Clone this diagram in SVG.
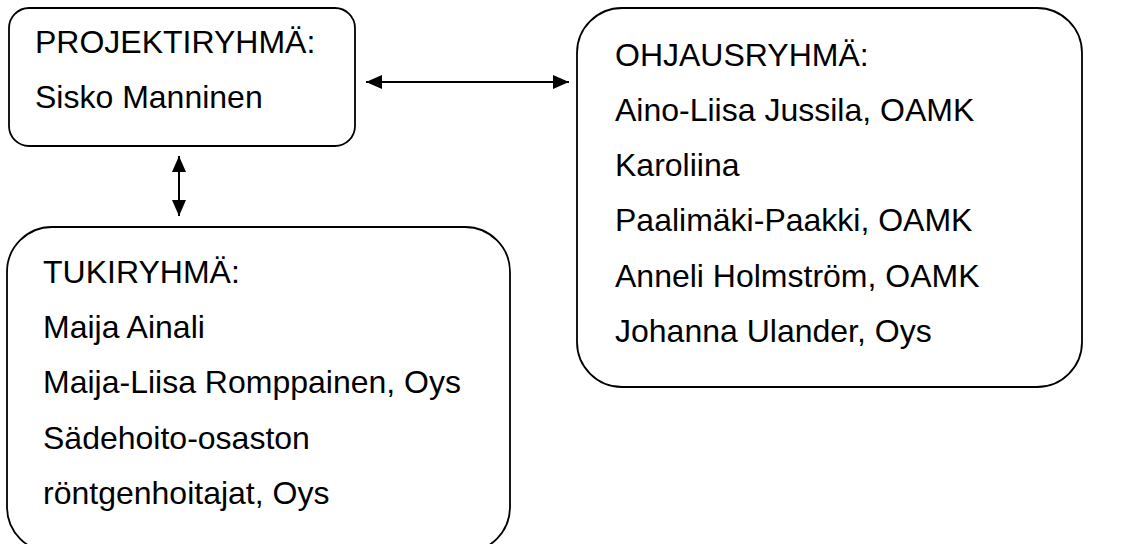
<svg xmlns="http://www.w3.org/2000/svg" width="1142" height="544" viewBox="0 0 1142 544">
<style>
.box{fill:#fff;stroke:#000;stroke-width:1.8}
.t{font-family:"Liberation Sans",Arial,sans-serif;font-size:32px;fill:#000}
.c{stroke:#000;stroke-width:2;fill:none}
</style>
<defs>
<marker id="ah" viewBox="0 0 16 14" refX="16" refY="7" markerWidth="16" markerHeight="14" markerUnits="userSpaceOnUse" orient="auto-start-reverse">
<path d="M0,0 L16,7 L0,14 Z" fill="#000"/>
</marker>
</defs>
<rect width="1142" height="544" fill="#fff"/>
<g id="projektiryhma">
<rect class="box" x="9" y="8" width="346" height="138" rx="20" ry="20"/>
<text class="t" x="35" y="53">PROJEKTIRYHMÄ:</text>
<text class="t" x="35" y="108">Sisko Manninen</text>
</g>
<g id="ohjausryhma">
<rect class="box" x="577" y="8" width="505" height="379" rx="45" ry="45"/>
<text class="t" x="615" y="66">OHJAUSRYHMÄ:</text>
<text class="t" x="615" y="121">Aino-Liisa Jussila, OAMK</text>
<text class="t" x="615" y="176">Karoliina</text>
<text class="t" x="615" y="231">Paalimäki-Paakki, OAMK</text>
<text class="t" x="615" y="287">Anneli Holmström, OAMK</text>
<text class="t" x="615" y="342">Johanna Ulander, Oys</text>
</g>
<g id="tukiryhma">
<rect class="box" x="7" y="227" width="503" height="325" rx="45" ry="45"/>
<text class="t" x="43" y="283">TUKIRYHMÄ:</text>
<text class="t" x="43" y="338">Maija Ainali</text>
<text class="t" x="43" y="393">Maija-Liisa Romppainen, Oys</text>
<text class="t" x="43" y="449">Sädehoito-osaston</text>
<text class="t" x="43" y="504">röntgenhoitajat, Oys</text>
</g>
<g id="connectors">
<line class="c" x1="366" y1="82" x2="569" y2="82" marker-start="url(#ah)" marker-end="url(#ah)"/>
<line class="c" x1="179" y1="156" x2="179" y2="216" marker-start="url(#ah)" marker-end="url(#ah)"/>
</g>
</svg>
